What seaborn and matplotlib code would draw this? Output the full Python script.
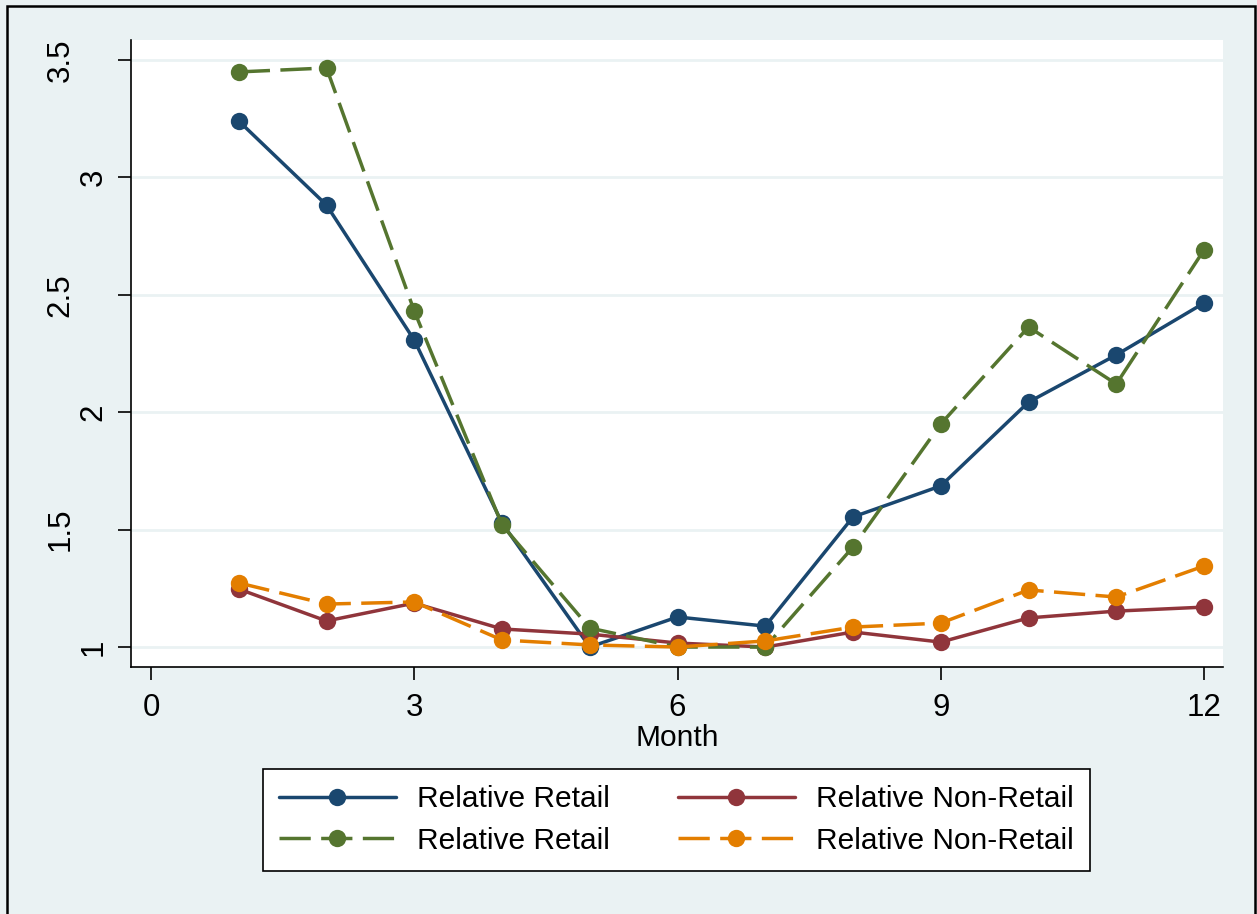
import pandas as pd
import matplotlib.pyplot as plt
import seaborn as sns
from matplotlib.patches import Rectangle

# values
months = [1, 2, 3, 4, 5, 6, 7, 8, 9, 10, 11, 12]
retail_a = [3.240, 2.882, 2.307, 1.528, 1.000, 1.128, 1.089, 1.554, 1.686, 2.043, 2.244, 2.465]
retail_b = [3.449, 3.466, 2.431, 1.520, 1.081, 1.000, 1.000, 1.426, 1.950, 2.363, 2.120, 2.691]
nonretail_a = [1.247, 1.111, 1.187, 1.077, 1.055, 1.017, 1.000, 1.064, 1.021, 1.124, 1.153, 1.170]
nonretail_b = [1.273, 1.183, 1.192, 1.030, 1.009, 1.000, 1.026, 1.085, 1.102, 1.243, 1.213, 1.345]

xticks = [0, 3, 6, 9, 12]
yticks = [1, 1.5, 2, 2.5, 3, 3.5]
ytick_labels = ['1', '1.5', '2', '2.5', '3', '3.5']

bg = '#EAF2F3'
navy = '#1A476F'
maroon = '#90353B'
green = '#55752F'
orange = '#E37E00'

sns.set_style('white')
plt.rcParams['font.family'] = ['Liberation Sans', 'DejaVu Sans']
for k in ['text.color', 'axes.labelcolor', 'xtick.color', 'ytick.color']:
    plt.rcParams[k] = 'black'

fig = plt.figure(figsize=(12.57, 9.14), dpi=100, facecolor=bg)
ax = fig.add_axes([131 / 1257, 1 - 667 / 914, 1092 / 1257, 627 / 914])
ax.set_facecolor('white')

dash = (0, (9, 3))
# (values, colour, linestyle, label) - solid first, dashed drawn on top
series = [
    (retail_a, navy, '-', 'Relative Retail'),
    (nonretail_a, maroon, '-', 'Relative Non-Retail'),
    (retail_b, green, dash, 'Relative Retail'),
    (nonretail_b, orange, dash, 'Relative Non-Retail'),
]
for vals, col, ls, lab in series:
    df = pd.DataFrame({'month': months, 'value': vals})
    sns.lineplot(data=df, x='month', y='value', ax=ax, color=col, linestyle=ls,
                 linewidth=2.5, marker='o', markersize=12.5, markeredgewidth=0,
                 label=lab, legend=False)

ax.set_xlim(-0.228, 12.216)
ax.set_ylim(0.915, 3.585)
ax.set_xticks(xticks)
ax.set_yticks(yticks)
ax.set_yticklabels(ytick_labels)
for y in yticks:
    ax.axhline(y, color=bg, linewidth=2, zorder=0)

for s in ['top', 'right']:
    ax.spines[s].set_visible(False)
for s in ['left', 'bottom']:
    ax.spines[s].set_color('black')
    ax.spines[s].set_linewidth(1.2)

ax.tick_params(axis='both', direction='out', length=9.4, width=1.2, color='black',
               labelcolor='black', labelsize=22.5, left=True, bottom=True)
ax.tick_params(axis='x', pad=9)
ax.tick_params(axis='y', pad=0)
for lab in ax.get_yticklabels():
    lab.set_rotation(90)
    lab.set_ha('center')
    lab.set_va('center')
    if '.' in lab.get_text():
        lab.set_x(-0.0527)
    else:
        lab.set_x(-0.0225)

ax.set_xlabel('Month', fontsize=21.5, labelpad=1)
ax.set_ylabel('')

# legend: column 1 retail, column 2 non-retail
handles, labels = ax.get_legend_handles_labels()
leg_h = [handles[0], handles[2], handles[1], handles[3]]
leg_l = [labels[0], labels[2], labels[1], labels[3]]
leg = fig.legend(leg_h, leg_l, loc='center', bbox_to_anchor=(0.538, 0.103), ncol=2,
                 fontsize=21.5, frameon=True, fancybox=False, edgecolor='black',
                 framealpha=1, handlelength=3.9, handletextpad=0.7, columnspacing=2.3,
                 borderpad=0.55, labelspacing=0.45, borderaxespad=0)
leg.get_frame().set_linewidth(1.2)
leg.get_frame().set_facecolor('white')
for t in leg.get_texts():
    t.set_color('black')

# outer border of the graph region
fig.patches.append(Rectangle((7 / 1257, -0.05), 1248 / 1257, 1.05 - 6 / 914,
                             transform=fig.transFigure, fill=False,
                             edgecolor='black', linewidth=1.8))

plt.savefig('out.png', dpi=100, facecolor=bg)
plt.close()
